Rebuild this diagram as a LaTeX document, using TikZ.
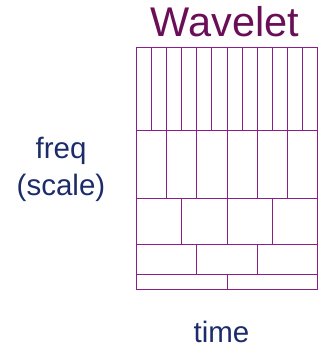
\documentclass[tikz,border=0pt]{standalone}
\usepackage{fontspec}
\setmainfont{Liberation Sans}
\usetikzlibrary{positioning}
\definecolor{titlepurple}{RGB}{107,14,88}
\definecolor{gridpurple}{RGB}{140,30,138}
\definecolor{labelnavy}{RGB}{28,44,106}
\tikzstyle{title} = [anchor=base, inner sep=0pt, text=titlepurple, font=\fontsize{41.5}{48}\selectfont]
\tikzstyle{axislabel} = [anchor=base, inner sep=0pt, text=labelnavy, font=\fontsize{29.5}{36.7}\selectfont, align=center]
\tikzstyle{cell} = [draw=gridpurple, line width=0.9pt]

\begin{document}
\begin{tikzpicture}[x=1pt, y=-1pt]
    \useasboundingbox (0,0) rectangle (331,347);
    %标题和坐标轴文字
    \node (t_wavelet) [title] at (225,37) {Wavelet};
    \node (l_freq) [axislabel] at (61,195) {freq\\(scale)};
    \node (l_time) [axislabel] at (221.5,342) {time};

    %时频格子: 每一行的上下边和格数
    \foreach \top/\bot/\n in {47.3/130.7/12, 130.7/198.7/6, 198.7/244/4, 244/274.3/3, 274.3/289.3/2} {
        \draw [cell] (136.3,\top) rectangle (317.7,\bot);
        \pgfmathtruncatemacro\m{\n-1}
        \foreach \i in {1,...,\m} {
            \pgfmathsetmacro\xx{136.3+181.4*\i/\n}
            \draw [cell] (\xx,\top) -- (\xx,\bot);
        }
    }
\end{tikzpicture}
\end{document}
